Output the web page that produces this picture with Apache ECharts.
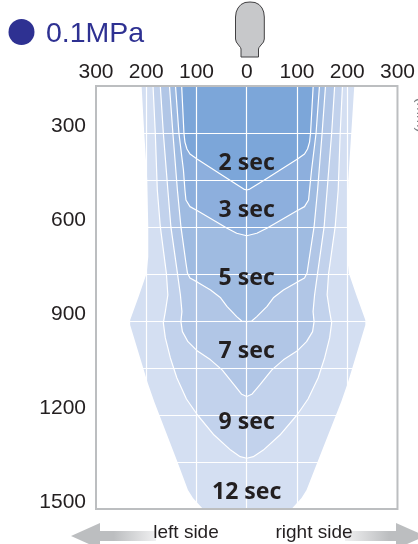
<!DOCTYPE html>
<html><head><meta charset="utf-8">
<style>html,body{margin:0;padding:0;background:#fff}#c{width:418px;height:544px}</style>
<script src="https://cdn.jsdelivr.net/npm/echarts@6/dist/echarts.min.js"></script>
</head><body><div id="c"></div>
<script>
// Depth levels (vertical axis) and half-widths on each side
const y12 = [100,300,450,599,695,747,817,897,913,1098,1158,1349,1439,1465,1500,1510];
const r12 = [216,208,202,200,200,203,218,236,236,201,188,141,119,109,89,80];
const l12 = [211,204,198,196,196,199,214,232,232,197,184,138,117,107,87,78];
const y9 = [100,300,482,599,747,817,870,906,954,1018,1082,1149,1200,1264,1312,1333,1338];
const r9 = [192,186,182,176,163,160,165,169,165,155,142,122,100,66,33,13,0];
const l9 = [188,182,178,172,160,157,162,166,162,152,139,120,98,65,32,13,0];
const y7 = [100,300,482,599,747,817,870,902,934,966,996,1024,1056,1104,1134,1141];
const r7 = [177,169,160,154,141,135,132,134,131,119,100,73,50,26,10,0];
const l7 = [174,166,157,151,138,132,129,131,128,117,98,72,49,25,10,0];
const y5 = [100,300,482,599,715,747,763,776,801,826,854,886,900,902];
const r5 = [159,150,141,134,123,120,115,100,73,53,40,20,10,0];
const l5 = [156,147,138,131,121,118,113,98,72,52,39,20,10,0];
const y3 = [100,300,418,482,514,535,548,604,620,628];
const r3 = [147,138,129,125,123,115,100,40,20,0];
const l3 = [144,135,126,123,121,113,98,39,20,0];
const y2 = [100,300,329,351,367,383,453,479,482];
const r2 = [134,127,125,121,115,101,32,6,0];
const l2 = [131,125,123,119,113,99,31,6,0];

const zoneLabels = ['2 sec','3 sec','5 sec','7 sec','9 sec','12 sec'];
const zoneLabelDepth = [398,548,765,997,1224,1447];
const yTicks = [300,600,900,1200,1500];

const zones = [
  {y:y12,r:r12,l:l12,fill:'#d4dff2',line:false},
  {y:y9,r:r9,l:l9,fill:'#c2d2ec',line:true},
  {y:y7,r:r7,l:l7,fill:'#b1c6e6',line:true},
  {y:y5,r:r5,l:l5,fill:'#9fbbe1',line:true},
  {y:y3,r:r3,l:l3,fill:'#8dafdd',line:true},
  {y:y2,r:r2,l:l2,fill:'#7ca6d9',line:true}
];

const font = '"Liberation Sans", Arial, sans-serif';
const ink = '#231f20';

function zoneSeries(z){
  return {
    type:'custom', coordinateSystem:'cartesian2d', silent:true, clip:false, z:2,
    data:[[0,z.y[0]]], encode:{x:0,y:1},
    renderItem(params,api){
      const pts=[];
      z.y.forEach((v,i)=>pts.push(api.coord([z.r[i],v])));
      for(let i=z.y.length-1;i>=0;i--){ if(z.l[i]!==0||z.r[i]!==0) pts.push(api.coord([-z.l[i],z.y[i]])); }
      const c=params.coordSys;
      return {type:'polygon',
        shape:{points:pts},
        style:{fill:z.fill,stroke:z.line?'#fff':null,lineWidth:z.line?1.2:0,lineJoin:'round'},
        clipPath:{type:'rect',shape:{x:c.x,y:c.y,width:c.width,height:c.height}}};
    }
  };
}

const bottle = [[235.5,39],[235.5,17],[236.2,12],[238,8],[241,4.5],[245,2.5],[250,2],[255,2.5],[259,4.5],[262,8],[263.7,12],[264.3,17],[264.3,39],[263.5,42],[261,45],[259,47.5],[258.5,49],[258.5,57],[241,57],[241,49],[240.5,47.5],[238.5,45],[236.3,42]];

const chart = echarts.init(document.getElementById('c'),null,{renderer:'canvas'});
chart.setOption({
  animation:false,
  backgroundColor:'#fff',
  title:{text:'0.1MPa',left:41,top:15,textStyle:{fontFamily:font,fontSize:28.5,fontWeight:'normal',color:'#2e3192'}},
  grid:{show:true,left:96,right:18.5,top:86,height:423,z:10,backgroundColor:'transparent',borderColor:'#bcbec0',borderWidth:2},
  xAxis:{type:'value',position:'top',min:-300,max:300,interval:100,z:5,
    axisLine:{show:false},axisTick:{show:false},
    splitLine:{show:true,lineStyle:{color:'#fff',width:1.2}},
    axisLabel:{margin:3,fontFamily:font,fontSize:21,color:ink,showMinLabel:true,showMaxLabel:true,hideOverlap:false,
      formatter:v=>String(Math.abs(v))}},
  yAxis:{type:'value',inverse:true,min:150,max:1500,interval:150,z:5,
    axisLine:{show:false},axisTick:{show:false},
    splitLine:{show:true,lineStyle:{color:'#fff',width:1.2}},
    axisLabel:{margin:10,fontFamily:font,fontSize:21,color:ink,verticalAlign:'bottom',lineHeight:14,showMinLabel:true,showMaxLabel:true,
      formatter:v=>yTicks.includes(v)?String(v):''}},
  series:[...zones.map(zoneSeries),{
    type:'scatter',z:8,silent:true,symbolSize:1,itemStyle:{color:'transparent',opacity:1},
    data:zoneLabels.map((t,i)=>({value:[0,zoneLabelDepth[i]],name:t})),
    label:{show:true,position:'inside',formatter:'{b}',fontFamily:'"Noto Sans"',fontWeight:'bold',fontSize:23,color:ink,opacity:1,textBorderWidth:0}
  }],
  graphic:[
    {type:'circle',shape:{cx:21.5,cy:32,r:13},style:{fill:'#2e3192'}},
    {type:'polygon',shape:{points:bottle},style:{fill:'#c7c8ca',stroke:'#414042',lineWidth:1}},
    {type:'polygon',shape:{points:[[71,536],[100,523],[100,531],[156,531],[156,541],[100,541],[100,549]]},
      style:{fill:new echarts.graphic.LinearGradient(0,0,1,0,[{offset:0,color:'#bcbec0'},{offset:0.5,color:'#bcbec0'},{offset:1,color:'#f0f0f1'}])}},
    {type:'polygon',shape:{points:[[425,536],[396,523],[396,531],[345,531],[345,541],[396,541],[396,549]]},
      style:{fill:new echarts.graphic.LinearGradient(0,0,1,0,[{offset:0,color:'#f0f0f1'},{offset:0.55,color:'#bcbec0'},{offset:1,color:'#bcbec0'}])}},
    {type:'text',x:186,y:533,style:{text:'left side',font:'19px '+font,fill:ink,align:'center',verticalAlign:'middle'}},
    {type:'text',x:314,y:533,style:{text:'right side',font:'19px '+font,fill:ink,align:'center',verticalAlign:'middle'}},
    {type:'text',x:414,y:115,rotation:-Math.PI/2,style:{text:'(mm)',font:'15px '+font,fill:'#808285',align:'center',verticalAlign:'bottom'}}
  ]
});
</script></body></html>
